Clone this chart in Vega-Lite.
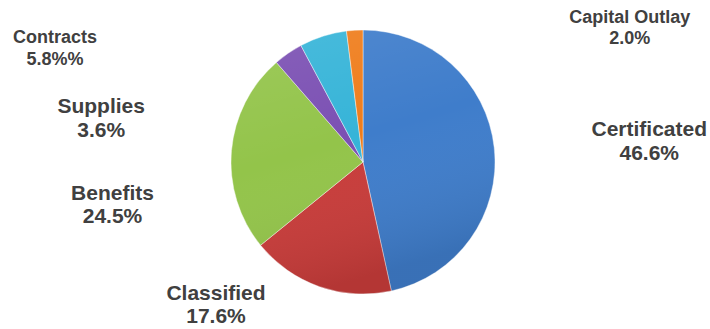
{
  "$schema": "https://vega.github.io/schema/vega-lite/v6.json",
  "width": 694,
  "height": 324,
  "autosize": {"type": "none"},
  "padding": {"left": 16, "top": 0, "right": 0, "bottom": 5},
  "background": "white",
  "view": {"stroke": null},
  "config": {"text": {"font": "Liberation Sans", "fontWeight": "bold", "color": "#404040", "align": "center", "baseline": "middle", "lineBreak": "\n"}},
  "datasets": {
    "budget": [
      {"category": "Certificated", "pct": 46.6, "label": "Certificated\n46.6%", "order": 1},
      {"category": "Classified", "pct": 17.6, "label": "Classified\n17.6%", "order": 2},
      {"category": "Benefits", "pct": 24.5, "label": "Benefits\n24.5%", "order": 3},
      {"category": "Supplies", "pct": 3.6, "label": "Supplies\n3.6%", "order": 4},
      {"category": "Contracts", "pct": 5.8, "label": "Contracts\n5.8%%", "order": 5},
      {"category": "Capital Outlay", "pct": 2.0, "label": "Capital Outlay\n2.0%", "order": 6}
    ],
    "total": [{"pct": 100.1}]
  },
  "data": {"name": "budget"},
  "encoding": {
    "theta": {"field": "pct", "type": "quantitative", "stack": true},
    "order": {"field": "order", "type": "quantitative"}
  },
  "layer": [
    {
      "mark": {"type": "arc", "outerRadius": 132, "stroke": "#ffffff", "strokeWidth": 0.6, "strokeOpacity": 0.7},
      "encoding": {
        "color": {
          "field": "category",
          "type": "nominal",
          "scale": {
            "domain": ["Certificated", "Classified", "Benefits", "Supplies", "Contracts", "Capital Outlay"],
            "range": ["#3F7DCB", "#C83C3A", "#93C44A", "#7B50B3", "#36B4D8", "#EF7D1C"]
          },
          "legend": null
        }
      }
    },
    {
      "data": {"name": "total"},
      "mark": {
        "type": "arc",
        "outerRadius": 132,
        "fill": {
          "gradient": "linear",
          "x1": 0, "y1": 0, "x2": 0.3, "y2": 1,
          "stops": [
            {"offset": 0, "color": "rgba(255,255,255,0.10)"},
            {"offset": 0.5, "color": "rgba(255,255,255,0)"},
            {"offset": 1, "color": "rgba(0,0,0,0.10)"}
          ]
        }
      },
      "encoding": {"theta": {"field": "pct", "type": "quantitative", "stack": true}, "order": null}
    },
    {
      "mark": {"type": "text", "radius": 132, "fontSize": 21, "lineHeight": 23.5, "dx": 155, "dy": -17.5},
      "encoding": {"text": {"condition": {"test": "datum.category === 'Certificated'", "field": "label"}, "value": ""}}
    },
    {
      "mark": {"type": "text", "radius": 132, "fontSize": 21, "lineHeight": 23.5, "dx": -103.5, "dy": 7},
      "encoding": {"text": {"condition": {"test": "datum.category === 'Classified'", "field": "label"}, "value": ""}}
    },
    {
      "mark": {"type": "text", "radius": 132, "fontSize": 21, "lineHeight": 23.5, "dx": -119, "dy": 43},
      "encoding": {"text": {"condition": {"test": "datum.category === 'Benefits'", "field": "label"}, "value": ""}}
    },
    {
      "mark": {"type": "text", "radius": 132, "fontSize": 21, "lineHeight": 24, "dx": -187, "dy": 53.5},
      "encoding": {"text": {"condition": {"test": "datum.category === 'Supplies'", "field": "label"}, "value": ""}}
    },
    {
      "mark": {"type": "text", "radius": 132, "fontSize": 18, "lineHeight": 22, "dx": -268, "dy": 1.5},
      "encoding": {"text": {"condition": {"test": "datum.category === 'Contracts'", "field": "label"}, "value": ""}}
    },
    {
      "mark": {"type": "text", "radius": 132, "fontSize": 18, "lineHeight": 21, "dx": 275, "dy": -12},
      "encoding": {"text": {"condition": {"test": "datum.category === 'Capital Outlay'", "field": "label"}, "value": ""}}
    }
  ]
}
